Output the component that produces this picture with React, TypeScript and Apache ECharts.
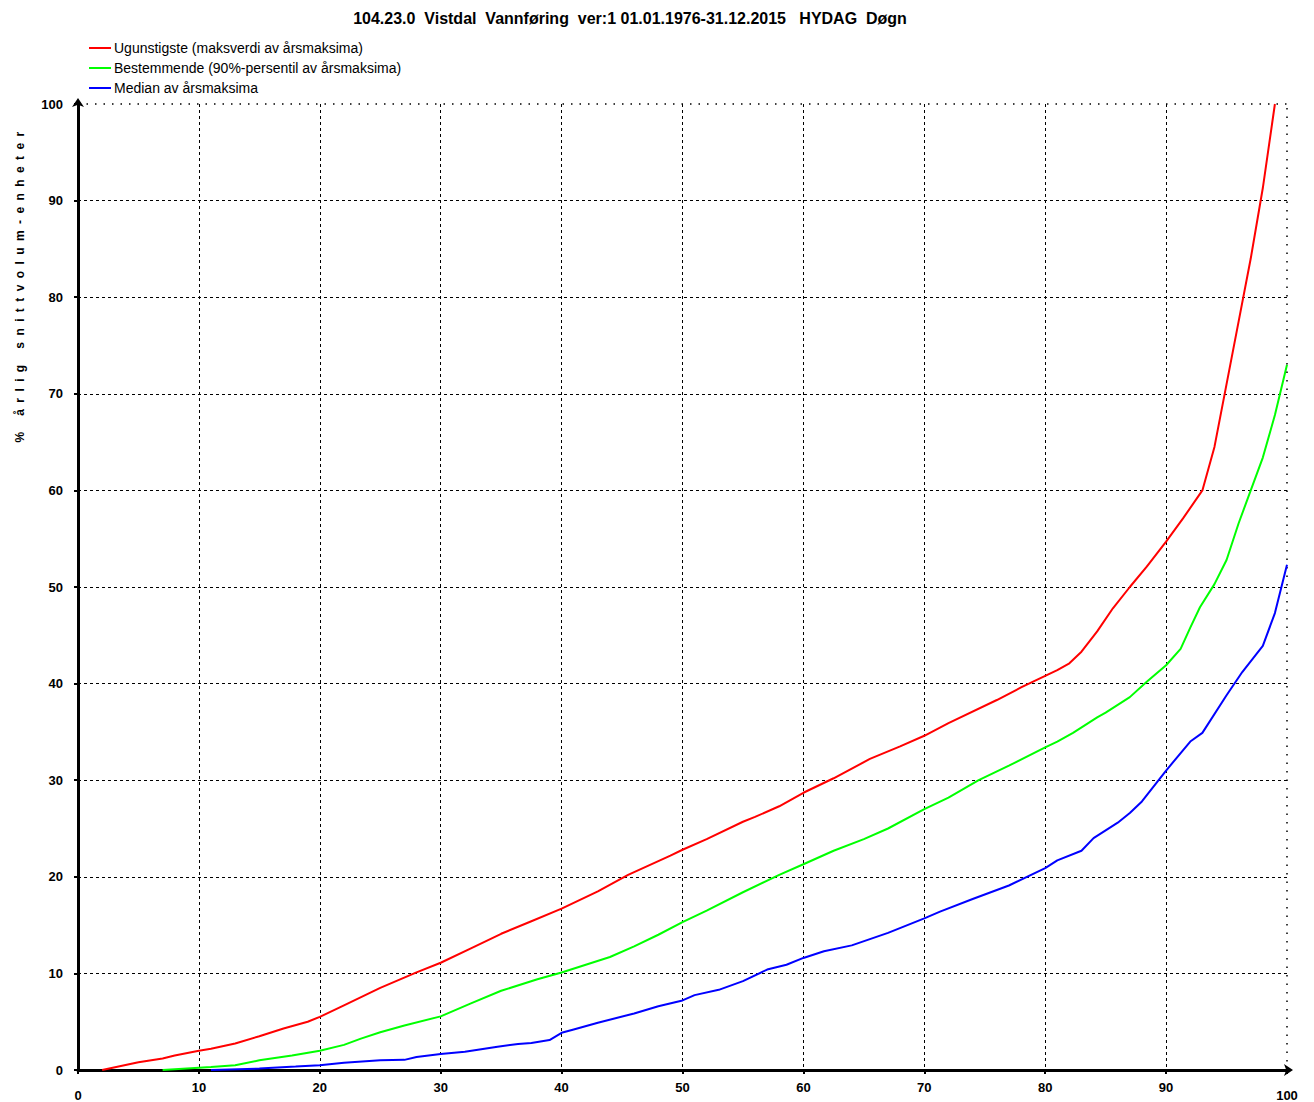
import React, { useEffect, useRef } from "react";
import * as echarts from "echarts";

const TITLE = "104.23.0  Vistdal  Vannføring  ver:1 01.01.1976-31.12.2015   HYDAG  Døgn";
const Y_NAME = "% årlig snittvolum-enheter";
const SERIES_NAMES = [
  "Ugunstigste (maksverdi av årsmaksima)",
  "Bestemmende (90%-persentil av årsmaksima)",
  "Median av årsmaksima",
];

const redX = [2, 5, 7, 8, 10, 11, 13, 15, 17, 19, 20, 22, 25, 28, 30, 32.5, 35, 37.5, 40, 43, 45.5, 49, 50, 52, 55, 56, 58, 60, 62.5, 65.5, 68, 70, 72, 76, 78, 80, 81, 82, 83, 84.3, 85.6, 87, 88.4, 90, 91.4, 93, 94, 95, 96, 97, 98, 99];
const redY = [0, 0.8, 1.2, 1.5, 2.0, 2.2, 2.75, 3.5, 4.3, 5.0, 5.5, 6.7, 8.5, 10.1, 11.1, 12.6, 14.1, 15.4, 16.7, 18.5, 20.2, 22.2, 22.8, 23.9, 25.7, 26.2, 27.3, 28.7, 30.2, 32.2, 33.5, 34.6, 35.9, 38.3, 39.6, 40.8, 41.4, 42.1, 43.3, 45.4, 47.8, 50.0, 52.1, 54.7, 57.1, 60.0, 64.5, 71, 77.5, 84, 91.3, 100];

const greenX = [7, 11, 13, 15, 17.7, 20, 22, 23.4, 25, 27, 30, 32.5, 35, 38, 40, 44, 46, 48, 50, 52, 55, 58, 60, 62.5, 65, 67, 70, 72, 74.5, 77, 80, 81, 82.3, 84.3, 85, 87, 88.4, 90, 91.2, 92, 92.8, 94, 95, 96, 97, 98, 99, 100];
const greenY = [0, 0.3, 0.5, 1.0, 1.5, 2.0, 2.6, 3.25, 3.9, 4.6, 5.55, 6.9, 8.2, 9.4, 10.1, 11.7, 12.8, 14.0, 15.3, 16.5, 18.4, 20.2, 21.3, 22.7, 23.9, 25.0, 27.0, 28.2, 30.0, 31.5, 33.4, 34.0, 34.9, 36.5, 37.0, 38.6, 40.2, 41.9, 43.6, 45.8, 47.9, 50.3, 52.8, 56.6, 60.0, 63.4, 67.8, 73];

const blueX = [11, 15, 18, 20, 22, 25, 27, 28, 30, 32, 34.7, 36.4, 37.5, 39, 40, 41, 43, 46, 48, 50, 51, 53, 55, 57, 58.6, 60, 61.7, 64, 67, 70, 71.3, 74, 77, 80, 81, 83, 84, 86, 87, 88, 90, 92, 93, 95, 96.3, 98, 99, 100];
const blueY = [0, 0.15, 0.35, 0.5, 0.75, 1.0, 1.05, 1.35, 1.65, 1.9, 2.4, 2.7, 2.8, 3.1, 3.85, 4.2, 4.9, 5.85, 6.6, 7.2, 7.75, 8.3, 9.2, 10.4, 10.9, 11.6, 12.3, 12.9, 14.2, 15.7, 16.4, 17.7, 19.1, 20.9, 21.7, 22.7, 24.0, 25.6, 26.6, 27.8, 31.0, 34.0, 34.9, 38.8, 41.2, 43.9, 47.3, 52.3];

const COLORS = ["#ff0000", "#00ff00", "#0000ff"];
const FONT = "'Liberation Sans', Arial, sans-serif";

const pairs = (xs: number[], ys: number[]) => xs.map((x, i) => [x, ys[i]]);

export default function App() {
  const ref = useRef<HTMLDivElement>(null);
  useEffect(() => {
    if (!ref.current) return;
    const chart = echarts.init(ref.current, null, { renderer: "svg" });
    const seriesData = [pairs(redX, redY), pairs(greenX, greenY), pairs(blueX, blueY)];
    chart.setOption({
      animation: false,
      backgroundColor: "#fff",
      title: {
        text: TITLE,
        left: 625,
        top: 5,
        textAlign: "center",
        textStyle: { fontFamily: FONT, fontWeight: "bold", fontSize: 16, color: "#000" },
      },
      legend: {
        orient: "vertical",
        left: 84,
        top: 36,
        itemWidth: 22,
        itemHeight: 2,
        itemGap: 6,
        icon: "rect",
        textStyle: { fontFamily: FONT, fontSize: 14, color: "#000", padding: [0, 0, 0, -2] },
        data: SERIES_NAMES,
      },
      graphic: [
        {
          type: "text",
          id: "yname",
          x: 20,
          y: 284,
          rotation: Math.PI / 2,
          style: {
            text: Y_NAME,
            fontFamily: FONT,
            fontWeight: "bold",
            fontSize: 12,
            fill: "#000",
            align: "center",
            verticalAlign: "middle",
          },
        },
      ],
      grid: { left: 78, right: 27, top: 104, bottom: 29, containLabel: false },
      xAxis: {
        type: "value",
        min: 0,
        max: 100,
        interval: 10,
        axisLine: {
          show: true,
          symbol: ["none", "arrow"],
          symbolSize: [9, 9],
          symbolOffset: [0, 6],
          lineStyle: { color: "#000", width: 3 },
        },
        axisTick: { show: true, length: 4, lineStyle: { color: "#000", width: 2 } },
        axisLabel: {
          margin: 11,
          fontFamily: FONT,
          fontWeight: "bold",
          fontSize: 13,
          color: "#000",
          formatter: (v: number) => (v === 0 || v === 100 ? `{e|${v}}` : `${v}`),
          rich: {
            e: { fontFamily: FONT, fontWeight: "bold", fontSize: 13, color: "#000", padding: [8, 0, 0, 0] },
          },
        },
        splitLine: {
          show: true,
          showMaxLine: false,
          lineStyle: { color: "#000", type: [3, 3], width: 1 },
        },
      },
      yAxis: {
        type: "value",
        min: 0,
        max: 100,
        interval: 10,
        axisLine: {
          show: true,
          symbol: ["none", "arrow"],
          symbolSize: [9, 9],
          symbolOffset: [0, 6],
          lineStyle: { color: "#000", width: 3 },
        },
        axisTick: { show: true, length: 4, lineStyle: { color: "#000", width: 2 } },
        axisLabel: {
          margin: 15,
          fontFamily: FONT,
          fontWeight: "bold",
          fontSize: 13,
          color: "#000",
        },
        splitLine: {
          show: true,
          showMaxLine: false,
          lineStyle: { color: "#000", type: [3, 3], width: 1 },
        },
      },
      series: SERIES_NAMES.map((name, i) => ({
        name,
        type: "line",
        data: seriesData[i],
        showSymbol: false,
        color: COLORS[i],
        lineStyle: { color: COLORS[i], width: 2 },
        z: 3 + i,
        markLine:
          i === 0
            ? {
                silent: true,
                symbol: "none",
                label: { show: false },
                lineStyle: { color: "#000", type: [1.5, 7], width: 1.5 },
                data: [{ yAxis: 100 }, { xAxis: 100 }],
              }
            : undefined,
      })),
    });
    const texts = ref.current.querySelectorAll("text");
    texts.forEach((t) => {
      if ((t.textContent || "").trim() === Y_NAME) {
        (t as SVGTextElement).style.letterSpacing = "6.4px";
      }
      (t as SVGTextElement).style.whiteSpace = "pre";
    });
    return () => chart.dispose();
  }, []);
  return <div ref={ref} style={{ width: 1314, height: 1102, position: "absolute", left: 0, top: 0 }} />;
}
